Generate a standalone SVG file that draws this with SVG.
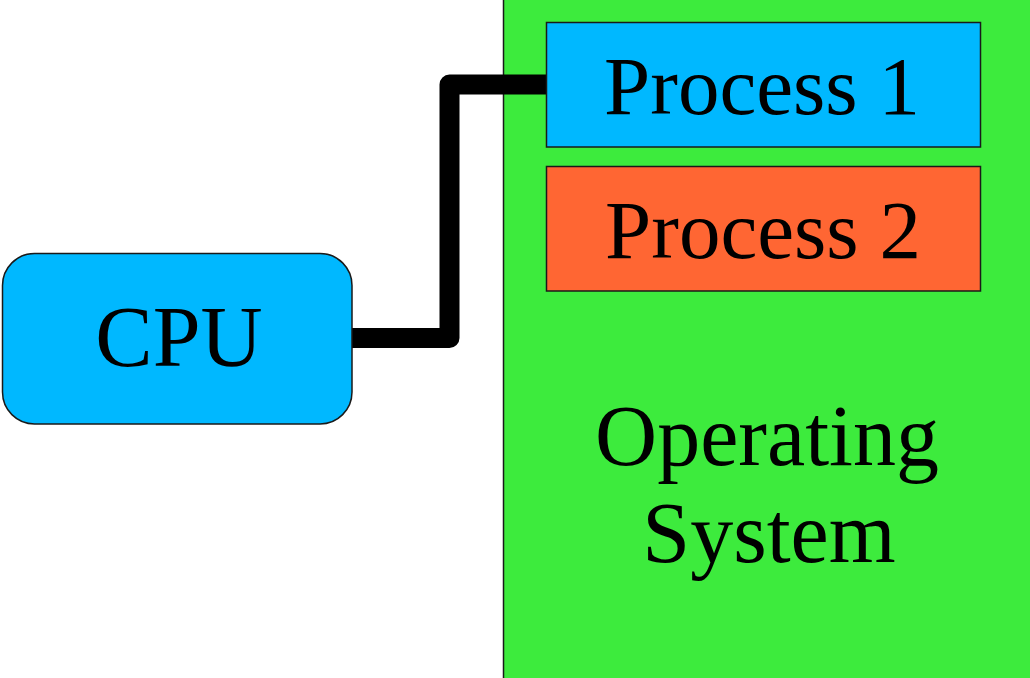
<svg xmlns="http://www.w3.org/2000/svg" width="1030" height="678" viewBox="0 0 1030 678">
<style>
.lbl{font-family:"Liberation Serif","Times New Roman",serif;font-size:86px;fill:#000;text-anchor:middle}
.proc{font-size:83px}
.box{stroke:#1a1a1a;stroke-width:1.5}
</style>
<rect width="1030" height="678" fill="#ffffff"/>
<g id="os">
<rect class="box" x="503.5" y="-1" width="530" height="682" fill="#3deb3d"/>
<text class="lbl" x="767" y="465">Operating</text>
<text class="lbl" x="769" y="562">System</text>
</g>
<g id="connectors">
<path d="M352,338 H449.5 V84.5 H547" fill="none" stroke="#000" stroke-width="20" stroke-linejoin="round"/>
</g>
<g id="cpu">
<rect class="box" x="2.5" y="253.5" width="349.5" height="170.5" rx="32" ry="32" fill="#00b8ff"/>
<text class="lbl" x="179" y="366">CPU</text>
</g>
<g id="process1">
<rect class="box" x="546.5" y="22.5" width="434" height="124.5" fill="#00b8ff"/>
<text class="lbl proc" x="762" y="114">Process 1</text>
</g>
<g id="process2">
<rect class="box" x="546.5" y="166.5" width="434" height="124.5" fill="#ff6633"/>
<text class="lbl proc" x="763" y="258">Process 2</text>
</g>
</svg>
